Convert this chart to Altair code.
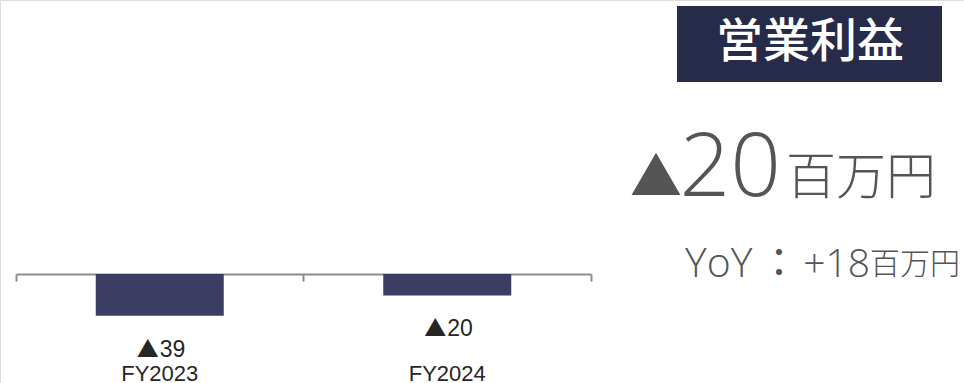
import altair as alt
import pandas as pd

# ---- data ----
categories = ["FY2023", "FY2024"]
values = [-39, -20]
neg_marks = ["▲", "▲"]
value_text = ["39", "20"]

panel_title = ["営業利益"]
headline_mark = ["▲"]
headline_value = ["20"]
unit_label = ["百万円"]
yoy_prefix = ["YoY"]
yoy_sep = ["："]
yoy_value = ["+18"]

df = pd.DataFrame({"cat": categories, "value": values, "mark": neg_marks, "num": value_text})

W, H = 964, 383
BAR = "#3b3d63"
BOX = "#272b4a"
GREY = "#555555"
AXIS = "#8c8c8c"

x_scale = alt.Scale(domain=categories, range=[16, 591], paddingInner=0, paddingOuter=0)
y_scale = alt.Scale(domain=[-101.9, 256.1], range=[H, 0], nice=False)

base = alt.Chart(df)

bars = base.mark_bar(size=128, color=BAR).encode(
    x=alt.X("cat:N", scale=x_scale, axis=alt.Axis(
        orient="bottom", offset=-109, labels=False, title=None, grid=False,
        domainColor=AXIS, domainWidth=2, tickColor=AXIS, tickWidth=2, tickSize=7,
        bandPosition=1, tickExtra=True)),
    y=alt.Y("value:Q", scale=y_scale, axis=None),
    y2=alt.datum(0),
)

val_mark = base.mark_text(font="Noto Sans CJK JP", fontSize=22, color="#262626",
                          align="right", baseline="middle", dy=34, dx=-1).encode(
    x=alt.X("cat:N"),
    y=alt.Y("value:Q", axis=None),
    text="mark:N",
)
val_num = base.mark_text(font="Liberation Sans", fontSize=23, color="#262626",
                         align="left", baseline="middle", dy=34, dx=0).encode(
    x=alt.X("cat:N"),
    y=alt.Y("value:Q", axis=None),
    text="num:N",
)

cat_text = base.mark_text(font="Liberation Sans", fontSize=22, color="#262626",
                          baseline="middle").encode(
    x=alt.X("cat:N"),
    y=alt.value(374),
    text="cat:N",
)

def ann(values, **kw):
    return alt.Chart(pd.DataFrame({"t": values})).mark_text(**kw).encode(text="t:N")

box = alt.Chart(pd.DataFrame({"t": panel_title})).mark_rect(color=BOX).encode(
    x=alt.value(677), x2=alt.value(942), y=alt.value(6), y2=alt.value(82))

box_text = ann(panel_title, font="Noto Sans CJK JP", fontSize=47, fontWeight=500, color="white",
               align="center", baseline="middle").encode(x=alt.value(810), y=alt.value(43))

big_tri = ann(headline_mark, font="Noto Sans CJK JP", fontSize=52, color=GREY,
              align="center", baseline="alphabetic").encode(x=alt.value(656), y=alt.value(196))
big_num = ann(headline_value, font="Open Sans", fontSize=89, fontWeight=300, color=GREY,
              align="right", baseline="alphabetic").encode(x=alt.value(781), y=alt.value(196))
big_unit = ann(unit_label, font="Noto Sans CJK JP", fontSize=50, fontWeight=300, color=GREY,
               align="left", baseline="alphabetic").encode(x=alt.value(786), y=alt.value(194))

yoy1 = ann(yoy_prefix, font="Open Sans", fontSize=41, fontWeight=300, color=GREY,
           align="left", baseline="alphabetic").encode(x=alt.value(685), y=alt.value(277))
yoy2 = ann(yoy_sep, font="Noto Sans CJK JP", fontSize=40, color=GREY,
           align="center", baseline="alphabetic").encode(x=alt.value(779), y=alt.value(277))
yoy3 = ann(yoy_value, font="Open Sans", fontSize=39, fontWeight=300, color=GREY,
           align="right", baseline="alphabetic").encode(x=alt.value(870), y=alt.value(277))
yoy4 = ann(unit_label, font="Noto Sans CJK JP", fontSize=30, fontWeight=300, color=GREY,
           align="left", baseline="alphabetic").encode(x=alt.value(870), y=alt.value(274))

chart = alt.layer(
    bars, val_mark, val_num, cat_text, box, box_text,
    big_tri, big_num, big_unit, yoy1, yoy2, yoy3, yoy4,
).properties(
    width=W, height=H, padding=0, autosize=alt.AutoSizeParams(type="none"),
).configure_view(stroke=None).configure(background="white")

chart.save("out.html", embed_options={"renderer": "svg", "actions": False})
